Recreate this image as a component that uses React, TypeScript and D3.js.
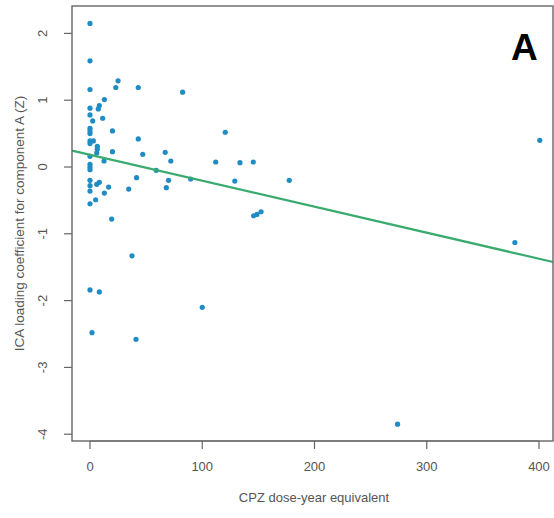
import React from "react";
import * as d3 from "d3";

const doseX: number[] = [
  0, 0, 25, 23, 0, 43, 82.5, 12.8, 8.3, 7.4, 0, 0, 11.3, 2.4, 0, 0, 0, 20, 0, 3, 0, 43, 6.5, 6.5, 20, 47, 67, 72,
  6, 0, 12.5, 0, 0, 0, 0, 0, 6, 8.3, 16.6, 12.8, 0, 34.5, 41.5, 70, 68, 5, 0, 19.3, 37.4, 0, 8.3, 1.8, 41,
  120.5, 112, 133.6, 145.5, 129, 177.5, 145.8, 148.7, 152.4, 59, 89.7, 100, 274, 378.5, 400.7,
];
const icaY: number[] = [
  2.15, 1.59, 1.29, 1.19, 1.16, 1.19, 1.12, 1.01, 0.92, 0.87, 0.88, 0.78, 0.73, 0.69, 0.58, 0.54, 0.5, 0.54, 0.39, 0.39, 0.35, 0.42, 0.31, 0.27, 0.23, 0.19, 0.22, 0.09,
  0.21, 0.16, 0.09, 0.04, 0.0, -0.04, -0.2, -0.28, -0.26, -0.23, -0.3, -0.39, -0.36, -0.33, -0.16, -0.2, -0.31, -0.49, -0.55, -0.78, -1.33, -1.84, -1.87, -2.48, -2.58,
  0.52, 0.075, 0.065, 0.075, -0.21, -0.2, -0.73, -0.71, -0.67, -0.05, -0.18, -2.1, -3.85, -1.13, 0.4,
];
const xTicks = [0, 100, 200, 300, 400];
const yTicks = [2, 1, 0, -1, -2, -3, -4];
const fitIntercept = 0.183;
const fitSlope = -0.00389;

const W = 554;
const H = 518;
const L = 72, T = 6, R = 553, B = 441;

export default function App() {
  const x = d3.scaleLinear().domain([0, 400]).range([90, 539]);
  const y = d3.scaleLinear().domain([0, 1]).range([167, 100.2]);
  const xMin = x.invert(L), xMax = x.invert(R);
  const line = d3.line<number>().x((d) => x(d)).y((d) => y(fitIntercept + fitSlope * d));
  const font = "'Liberation Sans', Arial, sans-serif";
  const grey = "#555";
  return (
    <svg width={W} height={H} style={{ position: "absolute", left: 0, top: 0, background: "#fff" }} fontFamily={font}>
      <rect x={0} y={0} width={W} height={H} fill="#fff" />
      {/* points */}
      {doseX.map((d, i) => (
        <circle key={i} cx={x(d)} cy={y(icaY[i])} r={2.6} fill="#1f8cc4" />
      ))}
      {/* fit line */}
      <path d={line([xMin, xMax]) || ""} fill="none" stroke="#3aab6e" strokeWidth={2.2} />
      {/* box */}
      <rect x={L} y={T} width={R - L} height={B - T} fill="none" stroke="#666" strokeWidth={1.4} />
      {/* x axis */}
      <line x1={x(0)} x2={x(400)} y1={B} y2={B} stroke="#666" strokeWidth={1.2} />
      {xTicks.map((t) => (
        <g key={t}>
          <line x1={x(t)} x2={x(t)} y1={B} y2={B + 8} stroke="#666" strokeWidth={1.2} />
          <text x={x(t)} y={B + 30} textAnchor="middle" fontSize={13} fill={grey}>{t}</text>
        </g>
      ))}
      {/* y axis */}
      {yTicks.map((t) => (
        <g key={t}>
          <line x1={L - 8} x2={L} y1={y(t)} y2={y(t)} stroke="#666" strokeWidth={1.2} />
          <text transform={`translate(${L - 30},${y(t)}) rotate(-90)`} textAnchor="middle" dy="0.35em" fontSize={13} fill={grey}>{t}</text>
        </g>
      ))}
      <text x={314} y={502} textAnchor="middle" fontSize={13} fill={grey}>CPZ dose-year equivalent</text>
      <text transform={`translate(19,${(T + B) / 2}) rotate(-90)`} textAnchor="middle" dy="0.35em" fontSize={13.5} fill={grey}>ICA loading coefficient for component A (Z)</text>
      <text x={511} y={60} fontSize={37} fontWeight="bold" fill="#000">A</text>
    </svg>
  );
}
